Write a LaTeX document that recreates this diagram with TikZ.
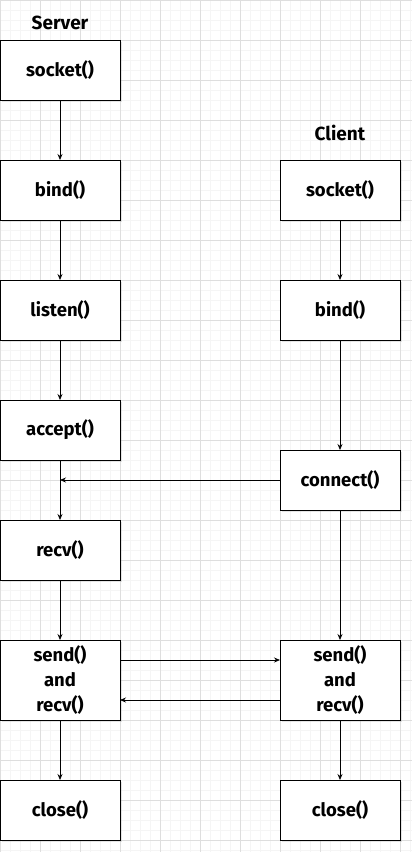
\documentclass[tikz,border=0pt]{standalone}
\usepackage{fontspec}
\setmainfont{Fira Sans}
\usetikzlibrary{positioning,shadows,arrows.meta}

\definecolor{minorgrid}{HTML}{F5F5F5}
\definecolor{majorgrid}{HTML}{DEDEDE}

\begin{document}
\begin{tikzpicture}[x=1pt, y=1pt, node distance=60pt and 160pt,
  call/.style={draw, rectangle, fill=white, minimum width=120pt, minimum height=60pt, align=center,
    font=\fontsize{18.5}{25}\selectfont\bfseries, line width=0.8pt, outer sep=0pt,
    drop shadow={opacity=0.2, shadow xshift=2pt, shadow yshift=-2pt}},
  title/.style={font=\fontsize{19}{22}\selectfont\bfseries},
  flow/.style={-{Stealth[length=6pt,width=5pt]}, line width=0.8pt}]
% background grid
\useasboundingbox (0,0) rectangle (412,-852);
\fill[white] (0,0) rectangle (412,-852);
\draw[minorgrid, line width=0.6pt] (0,-852) grid[step=10pt] (412,0);
\draw[majorgrid, line width=0.8pt] (0,-852) grid[step=40pt] (412,0);
% server side
\node (ssocket) [call] at (60,-70) {socket()};
\node (sbind) [call, below=of ssocket] {bind()};
\node (slisten) [call, below=of sbind] {listen()};
\node (saccept) [call, below=of slisten] {accept()};
\node (srecv) [call, below=of saccept] {recv()};
\node (ssend) [call, below=of srecv, minimum height=80pt] {send()\\and\\recv()};
\node (sclose) [call, below=of ssend] {close()};
\node (server) [title, above=7pt of ssocket] {Server};
% client side
\node (csocket) [call, right=160pt of sbind] {socket()};
\node (cbind) [call, below=of csocket] {bind()};
\node (cconnect) [call, below=110pt of cbind] {connect()};
\node (csend) [call, right=160pt of ssend, minimum height=80pt] {send()\\and\\recv()};
\node (cclose) [call, below=of csend] {close()};
\node (client) [title, above=16pt of csocket] {Client};
% arrows
\draw[flow] (ssocket) -- (sbind);
\draw[flow] (sbind) -- (slisten);
\draw[flow] (slisten) -- (saccept);
\draw[flow] (saccept) -- (srecv);
\draw[flow] (srecv) -- (ssend);
\draw[flow] (ssend) -- (sclose);
\draw[flow] (csocket) -- (cbind);
\draw[flow] (cbind) -- (cconnect);
\draw[flow] (cconnect) -- (csend);
\draw[flow] (csend) -- (cclose);
\coordinate (meet) at (saccept |- cconnect);
\draw[flow] (cconnect) -- (meet);
\draw[flow] ([yshift=20pt]ssend.east) -- ([yshift=20pt]csend.west);
\draw[flow] ([yshift=-20pt]csend.west) -- ([yshift=-20pt]ssend.east);
\end{tikzpicture}
\end{document}
